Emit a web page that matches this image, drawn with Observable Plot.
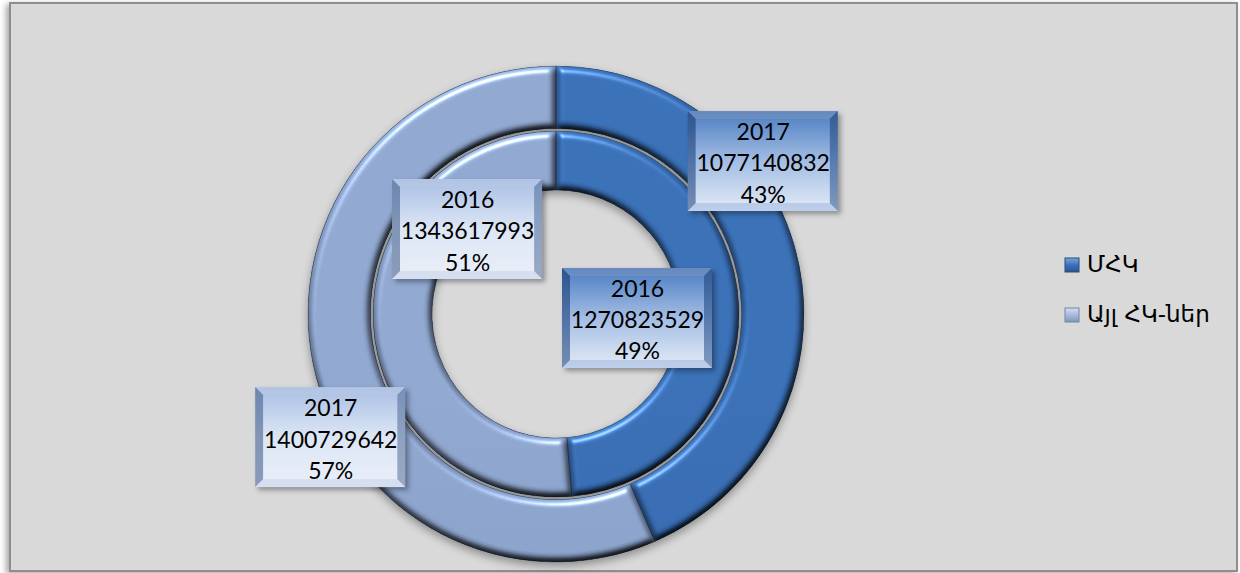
<!DOCTYPE html>
<html>
<head>
<meta charset="utf-8">
<script src="https://cdn.jsdelivr.net/npm/d3@7"></script>
<script src="https://cdn.jsdelivr.net/npm/@observablehq/plot@0.6"></script>
<style>
  body { margin: 0; background: #ffffff; }
  #chart svg { display: block; }
</style>
</head>
<body>
<div id="chart"></div>
<script>
// ---------- data ----------
const years = ["2016", "2017"];
const categories = ["ՄՀԿ", "Այլ ՀԿ-ներ"];
const mhkValues = [1270823529, 1077140832];
const otherValues = [1343617993, 1400729642];

// ---------- layout ----------
const W = 1240, H = 573;
const cx = 556, cy = 314, R = 248;             // donut centre & outer radius (px)
const ringRadii = {"2016": [0.50, 0.738], "2017": [0.748, 1.0]}; // fraction of R
// manually placed data labels: [angle deg clockwise from 12 o'clock, radius in R units]
const labelPlacement = {
  "ՄՀԿ|2017": [53.5, 1.037],
  "ՄՀԿ|2016": [92.8, 0.327],
  "Այլ ՀԿ-ներ|2016": [313.7, 0.496],
  "Այլ ՀԿ-ներ|2017": [241.4, 1.037]
};

const color = Plot.scale({color: {type: "ordinal", domain: categories, range: ["#3a72bd", "#94aeda"]}});

// ---------- derived table ----------
const slices = [];
years.forEach((yr, i) => {
  const vals = [mhkValues[i], otherValues[i]];
  const total = d3.sum(vals);
  d3.pie().sort(null)(vals).forEach((a, j) => {
    const [deg, rr] = labelPlacement[categories[j] + "|" + yr];
    const t = deg * Math.PI / 180;
    slices.push({
      year: yr, category: categories[j], value: vals[j],
      pct: Math.round(vals[j] / total * 100),
      startAngle: a.startAngle, endAngle: a.endAngle,
      inner: ringRadii[yr][0], outer: ringRadii[yr][1],
      lx: rr * Math.sin(t), ly: rr * Math.cos(t)
    });
  });
});

function defsAndFrame(index, scales, values, dims) {
  const g = d3.create("svg:g");
  const defs = g.append("defs");
  // ring gradients
  const ringStops = [["#3e79c6", "#2d5c99"], ["#9cb5e1", "#8a9fc6"]];
  categories.forEach((c, k) => {
    const lg = defs.append("linearGradient").attr("id", "ring" + k)
      .attr("gradientUnits", "userSpaceOnUse").attr("x1", 0).attr("x2", 0)
      .attr("y1", cy - R).attr("y2", cy + R);
    lg.append("stop").attr("offset", 0).attr("stop-color", ringStops[k][0]);
    lg.append("stop").attr("offset", 0.5).attr("stop-color", color.apply(c));
    lg.append("stop").attr("offset", 1).attr("stop-color", ringStops[k][1]);
  });
  // box gradients
  const boxStops = [
    {outer: ["#3b69ab", "#6f96cf", "#a9bfe3"], inner: ["#5a87c7", "#a3bde3", "#d9e4f4"]},
    {outer: ["#9bb3dc", "#bccbe6", "#c9d5eb"], inner: ["#b1c5e7", "#dce6f5", "#e8eef8"]}
  ];
  categories.forEach((c, k) => {
    ["outer", "inner"].forEach(part => {
      const lg = defs.append("linearGradient").attr("id", `box${part}${k}`)
        .attr("x1", 0).attr("x2", 0).attr("y1", 0).attr("y2", 1);
      boxStops[k][part].forEach((s, i) => lg.append("stop").attr("offset", i / 2).attr("stop-color", s));
    });
  });
  // legend swatch gradients
  const swStops = [["#7ea6dd", "#3a70b8", "#2a5590"], ["#d3def2", "#a7bbdc", "#7f94b8"]];
  categories.forEach((c, k) => {
    const lg = defs.append("linearGradient").attr("id", "sw" + k)
      .attr("x1", 0).attr("x2", 0).attr("y1", 0).attr("y2", 1);
    swStops[k].forEach((s, i) => lg.append("stop").attr("offset", i / 2).attr("stop-color", s));
  });
  // filters
  const mk = (id, pad) => defs.append("filter").attr("id", id)
    .attr("x", `-${pad}%`).attr("y", `-${pad}%`).attr("width", `${100 + 2 * pad}%`).attr("height", `${100 + 2 * pad}%`)
    .attr("color-interpolation-filters", "sRGB");
  mk("frameShadow", 5).append("feDropShadow").attr("dx", -3).attr("dy", 2).attr("stdDeviation", 3)
    .attr("flood-color", "#000").attr("flood-opacity", 0.35);
  mk("donutShadow", 20).append("feDropShadow").attr("dx", 0).attr("dy", 4).attr("stdDeviation", 4)
    .attr("flood-color", "#000").attr("flood-opacity", 0.35);
  mk("boxShadow", 20).append("feDropShadow").attr("dx", 3).attr("dy", 3).attr("stdDeviation", 2.5)
    .attr("flood-color", "#000").attr("flood-opacity", 0.35);
  const bev = mk("bevel", 10);
  bev.append("feGaussianBlur").attr("in", "SourceAlpha").attr("stdDeviation", 3.5).attr("result", "b");
  bev.append("feSpecularLighting").attr("in", "b").attr("surfaceScale", 6).attr("specularConstant", 0.9)
    .attr("specularExponent", 28).attr("lighting-color", "#ffffff").attr("result", "s")
    .append("feDistantLight").attr("azimuth", 250).attr("elevation", 35);
  bev.append("feComposite").attr("in", "s").attr("in2", "SourceAlpha").attr("operator", "in").attr("result", "si");
  bev.append("feDiffuseLighting").attr("in", "b").attr("surfaceScale", 6).attr("diffuseConstant", 1)
    .attr("lighting-color", "#ffffff").attr("result", "d")
    .append("feDistantLight").attr("azimuth", 250).attr("elevation", 60);
  bev.append("feComposite").attr("in", "SourceGraphic").attr("in2", "d").attr("operator", "arithmetic")
    .attr("k1", 1.05).attr("k2", 0).attr("k3", 0).attr("k4", 0).attr("result", "lit");
  bev.append("feComposite").attr("in", "lit").attr("in2", "si").attr("operator", "arithmetic")
    .attr("k1", 0).attr("k2", 1).attr("k3", 0.45).attr("k4", 0).attr("result", "lit2");
  bev.append("feComposite").attr("in", "lit2").attr("in2", "SourceAlpha").attr("operator", "in");

  // chart area frame
  g.append("rect").attr("x", 10).attr("y", 3).attr("width", dims.width - 13).attr("height", dims.height - 5)
    .attr("fill", "#d9d9d9").attr("stroke", "#8e8e8e").attr("stroke-width", 2)
    .attr("filter", "url(#frameShadow)");
  return g.node();
}

function ringsMark(index, scales) {
  const {x, y} = scales;
  const unit = x(1) - x(0);
  const g = d3.create("svg:g")
    .attr("transform", `translate(${x(0)},${y(0)})`)
    .attr("filter", "url(#donutShadow)");
  const arc = d3.arc();
  g.selectAll("path").data(slices).join("path")
    .attr("d", d => arc({innerRadius: d.inner * unit, outerRadius: d.outer * unit, startAngle: d.startAngle, endAngle: d.endAngle}))
    .attr("fill", d => `url(#ring${categories.indexOf(d.category)})`)
    .attr("stroke", "#2f4b74").attr("stroke-opacity", 0.75).attr("stroke-width", 1)
    .attr("filter", "url(#bevel)");
  return g.node();
}

function boxesMark(index, scales) {
  const {x, y} = scales;
  const bw = 150, bh = 100, e = 8;
  const g = d3.create("svg:g");
  const b = g.selectAll("g").data(slices).join("g")
    .attr("transform", d => `translate(${x(d.lx)},${y(d.ly)})`)
    .attr("filter", "url(#boxShadow)");
  b.append("rect").attr("x", -bw / 2).attr("y", -bh / 2).attr("width", bw).attr("height", bh)
    .attr("fill", d => `url(#boxouter${categories.indexOf(d.category)})`);
  const hw = bw / 2, hh = bh / 2;
  const facets = [
    {pts: [[-hw, -hh], [hw, -hh], [hw - e, -hh + e], [-hw + e, -hh + e]], fill: "#ffffff", op: 0.22},
    {pts: [[-hw, -hh], [-hw + e, -hh + e], [-hw + e, hh - e], [-hw, hh]], fill: "#16315c", op: 0.35},
    {pts: [[hw, -hh], [hw, hh], [hw - e, hh - e], [hw - e, -hh + e]], fill: "#1c3560", op: 0.28},
    {pts: [[-hw, hh], [-hw + e, hh - e], [hw - e, hh - e], [hw, hh]], fill: "#ffffff", op: 0.25}
  ];
  facets.forEach(f => b.append("polygon").attr("points", f.pts.map(p => p.join(",")).join(" "))
    .attr("fill", f.fill).attr("fill-opacity", f.op));
  b.append("rect").attr("x", -hw + e).attr("y", -hh + e).attr("width", bw - 2 * e).attr("height", bh - 2 * e)
    .attr("fill", d => `url(#boxinner${categories.indexOf(d.category)})`);
  return g.node();
}

function legendMark() {
  const g = d3.create("svg:g");
  const rows = g.selectAll("g").data(categories).join("g")
    .attr("transform", (d, i) => `translate(1065,${258 + i * 50})`);
  rows.append("rect").attr("width", 14).attr("height", 14)
    .attr("fill", (d, i) => `url(#sw${i})`).attr("stroke", (d, i) => i ? "#7085a8" : "#274c80").attr("stroke-width", 1);
  rows.append("text").attr("x", 22).attr("y", 14)
    .attr("text-anchor", "start")
    .attr("font-family", "'DejaVu Sans', sans-serif").attr("font-size", 23).attr("fill", "#000")
    .text(d => d);
  return g.node();
}

const plot = Plot.plot({
  width: W, height: H, margin: 0,
  x: {domain: [-cx / R, (W - cx) / R], axis: null},
  y: {domain: [-(H - cy) / R, cy / R], axis: null},
  style: {background: "#ffffff", overflow: "visible"},
  marks: [
    defsAndFrame,
    ringsMark,
    boxesMark,
    Plot.text(slices, {
      x: "lx", y: "ly",
      text: d => `${d.year}\n${d.value}\n${d.pct}%`,
      fontSize: 23, lineHeight: 1.35, fontFamily: "Lato", fill: "#000"
    }),
    legendMark
  ]
});
document.getElementById("chart").append(plot);
</script>
</body>
</html>
